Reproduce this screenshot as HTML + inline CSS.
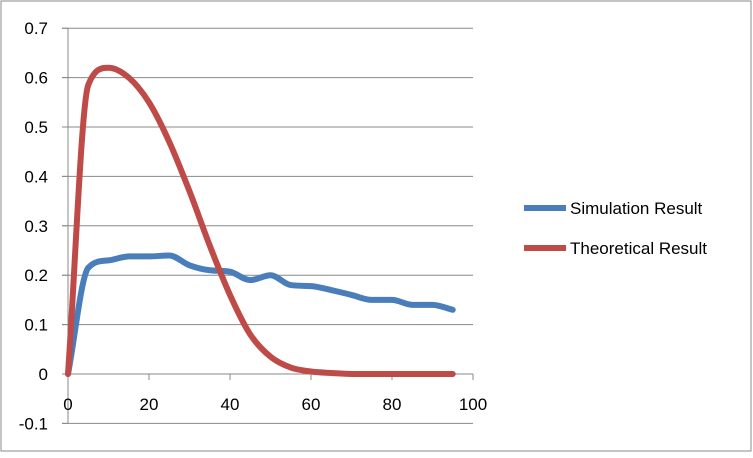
<!DOCTYPE html>
<html><head><meta charset="utf-8"><style>
body{margin:0;background:#fff}
svg text{font-family:"Liberation Sans",sans-serif;font-size:17px;fill:#000}
</style></head><body>
<svg id="c" width="753" height="453">
<rect x="1" y="1" width="750" height="450" fill="#fff" stroke="#888"/>
<g id="grid"></g><g id="axes"></g><g id="series"></g>
<g>
<line x1="524" y1="208" x2="566" y2="208" stroke="#4a7ebb" stroke-width="6"/>
<text x="570" y="214">Simulation Result</text>
<line x1="524" y1="248" x2="566" y2="248" stroke="#be4b48" stroke-width="6"/>
<text x="570" y="254">Theoretical Result</text>
</g>
</svg>
<script>
const xs=[0,5,10,15,20,25,30,35,40,45,50,55,60,65,70,75,80,85,90,95];
const simulation=[0,0.215,0.23,0.238,0.238,0.24,0.22,0.21,0.207,0.19,0.2,0.18,0.178,0.17,0.16,0.15,0.15,0.14,0.14,0.13];
const theoretical=[0,0.585,0.62,0.6,0.55,0.47,0.37,0.26,0.16,0.08,0.035,0.013,0.005,0.002,0,0,0,0,0,0];
const yTicks=[-0.1,0,0.1,0.2,0.3,0.4,0.5,0.6,0.7];
const xTicks=[0,20,40,60,80,100];
const X=v=>68+v*4.05, Y=v=>374-v*494;
const NS="http://www.w3.org/2000/svg";
function mk(tag,attrs,parent,txt){const e=document.createElementNS(NS,tag);for(const k in attrs)e.setAttribute(k,attrs[k]);if(txt!==undefined)e.textContent=txt;document.getElementById(parent).appendChild(e);return e;}
yTicks.forEach(t=>{
 if(t!==0){const g=mk('line',{x1:62,x2:X(100),y1:Y(t),y2:Y(t),stroke:'#888','stroke-width':1},'grid');
 
 }
 const tk=mk('line',{x1:62,x2:68,y1:Y(t),y2:Y(t),stroke:'#888'},'axes');
 
 
 const l=mk('text',{x:48,y:Y(t)+6,'text-anchor':'end'},'axes',String(t));
 
 
});
const xa=mk('line',{x1:68,x2:X(100),y1:Y(0),y2:Y(0),stroke:'#888'},'axes');


const ya=mk('line',{x1:68,x2:68,y1:Y(0.7),y2:Y(-0.1),stroke:'#888'},'axes');


xTicks.forEach(t=>{
 const tk=mk('line',{x1:X(t),x2:X(t),y1:Y(0),y2:Y(0)+6,stroke:'#888'},'axes');
 
 
 const l=mk('text',{x:X(t),y:Y(0)+36,'text-anchor':'middle'},'axes',String(t));
 
 
});
function path(vals){
 const p=xs.map((x,i)=>[X(x),Y(vals[i])]);
 const n=p.length, d=[], m=[];
 for(let i=0;i<n-1;i++)d.push((p[i+1][1]-p[i][1])/(p[i+1][0]-p[i][0]));
 m[0]=d[0];m[n-1]=d[n-2];
 for(let i=1;i<n-1;i++){m[i]=(d[i-1]*d[i]<=0)?0:(d[i-1]+d[i])/2;}
 for(let i=0;i<n-1;i++){
  if(d[i]===0){m[i]=0;m[i+1]=0;continue;}
  const a=m[i]/d[i],b=m[i+1]/d[i],s=a*a+b*b;
  if(s>9){const t=3/Math.sqrt(s);m[i]=t*a*d[i];m[i+1]=t*b*d[i];}
 }
 let s='M'+p[0][0]+','+p[0][1];
 for(let i=0;i<n-1;i++){
  const h=(p[i+1][0]-p[i][0])/3;
  s+=` C${p[i][0]+h},${p[i][1]+m[i]*h} ${p[i+1][0]-h},${p[i+1][1]-m[i+1]*h} ${p[i+1][0]},${p[i+1][1]}`;
 }
 return s;
}
const s1=mk('path',{d:path(simulation),fill:'none',stroke:'#4a7ebb','stroke-width':6,'stroke-linejoin':'round','stroke-linecap':'round'},'series');


const s2=mk('path',{d:path(theoretical),fill:'none',stroke:'#be4b48','stroke-width':6,'stroke-linejoin':'round','stroke-linecap':'round'},'series');


</script>
</body></html>
